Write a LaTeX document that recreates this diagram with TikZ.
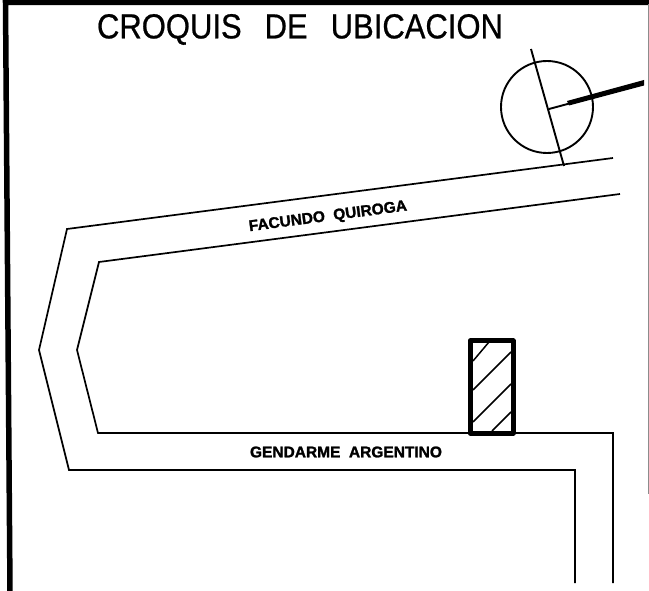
\documentclass[tikz,border=0pt]{standalone}
\usepackage{graphicx}
\usepackage{fontspec}
\setmainfont{Liberation Sans}
\newfontfamily\titlefont[FakeBold=0.7]{Liberation Sans}
\newfontfamily\labelfont[FakeBold=1.6]{Liberation Sans Bold}
\tikzset{
  road/.style={line width=1.7pt,line join=miter},
  frameline/.style={line width=5.5pt},
  rotulo/.style={font=\labelfont\fontsize{15.5}{17}\selectfont,inner sep=0pt,text=black},
}
\begin{document}
\begin{tikzpicture}[x=1pt,y=-1pt]
\useasboundingbox (0,0) rectangle (649,591);
\draw[frameline] (10,591) -- (5.5,2.5) -- (649,2.5);
\draw[line width=0.8pt,black!45] (648,4) -- (648,494);
\node[inner sep=0pt,font=\titlefont\fontsize{31}{34}\selectfont] (titulo) at (300,29.5) {\scalebox{1}[1.12]{CROQUIS\hspace{23pt}DE\hspace{23pt}UBICACION}};
\draw[road] (613,158) -- (67,229) -- (39,350) -- (69,470) -- (575,470) -- (575,583);
\draw[road] (620,194) -- (99,262) -- (77,350) -- (98,433) -- (613,433) -- (613,583);
\node[rotulo,rotate=7.5] (fq) at (328,217) {FACUNDO\hspace{0.55em}QUIROGA};
\node[rotulo] (ga) at (346,452) {GENDARME\hspace{0.55em}ARGENTINO};
\draw[line width=1.9pt] (547,107) circle (46);
\draw[line width=1.9pt] (531,49) -- (564,166);
\draw[line width=1.9pt] (549,109) -- (575,102);
\fill (567,101) -- (644,80) -- (644,85.5) -- (569,105.5) -- cycle;
\draw[line width=1.5pt] (473,361) -- (489,342)
  (473,390) -- (511,352)
  (473,422) -- (511,384)
  (492,431) -- (511,412);
\draw[line width=5pt,line join=round] (470,341) rectangle (513,433);
\end{tikzpicture}
\end{document}
